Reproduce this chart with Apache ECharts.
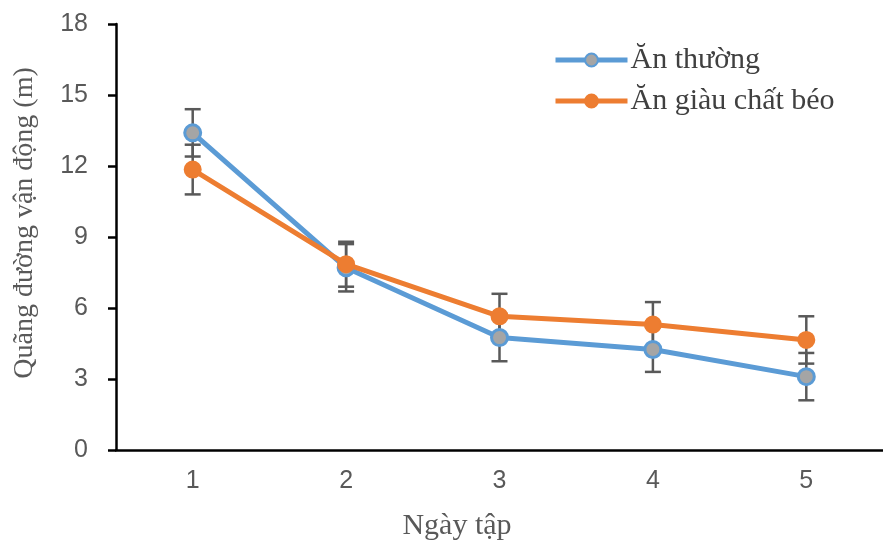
<!DOCTYPE html>
<html>
<head>
<meta charset="utf-8">
<script src="https://cdn.jsdelivr.net/npm/echarts@6/dist/echarts.min.js"></script>
<style>html,body{margin:0;padding:0;background:#fff;}#c{width:883px;height:544px;}</style>
</head>
<body>
<div id="c"></div>
<script>
const categories = ['1', '2', '3', '4', '5'];
const normalName = 'Ăn thường';
const fatName = 'Ăn giàu chất béo';
const normalValues = [13.4, 7.7, 4.75, 4.25, 3.1];
const normalErrors = [1.0, 1.0, 1.0, 0.95, 1.0];
const fatValues = [11.85, 7.85, 5.65, 5.3, 4.65];
const fatErrors = [1.05, 0.95, 0.95, 0.95, 1.0];
const yTicks = [0, 3, 6, 9, 12, 15, 18];
const xTitle = 'Ngày tập';
const yTitle = 'Quãng đường vận động (m)';

const chart = echarts.init(document.getElementById('c'), null, {renderer: 'canvas'});

function errData(vals, errs) {
  return vals.map((v, i) => [i, v - errs[i], v + errs[i]]);
}
function errRender(params, api) {
  const x = api.value(0);
  const lo = api.coord([x, api.value(1)]);
  const hi = api.coord([x, api.value(2)]);
  const hw = 8;
  const style = {stroke: '#595959', lineWidth: 2.5, fill: null};
  return {
    type: 'group',
    children: [
      {type: 'line', shape: {x1: lo[0], y1: lo[1], x2: hi[0], y2: hi[1]}, style: style},
      {type: 'line', shape: {x1: lo[0] - hw, y1: lo[1], x2: lo[0] + hw, y2: lo[1]}, style: style},
      {type: 'line', shape: {x1: hi[0] - hw, y1: hi[1], x2: hi[0] + hw, y2: hi[1]}, style: style}
    ]
  };
}

chart.setOption({
  animation: false,
  backgroundColor: '#ffffff',
  grid: {left: 116, top: 24, width: 772, height: 426, containLabel: false},
  legend: {
    left: 553, top: 45, padding: 0, orient: 'vertical', itemWidth: 72, itemHeight: 16, itemGap: 11,
    lineStyle: {width: 5},
    textStyle: {fontFamily: 'Liberation Serif', fontSize: 30, lineHeight: 30, color: '#404040', padding: [0, 0, 0, -2]},
    data: [normalName, fatName]
  },
  xAxis: {
    type: 'category', data: categories, boundaryGap: true,
    axisLine: {lineStyle: {color: '#000', width: 2.5}},
    axisTick: {inside: true, alignWithLabel: true, length: 6, lineStyle: {color: '#000', width: 2.5}},
    axisLabel: {margin: 19, fontFamily: 'Liberation Sans', fontSize: 25, color: '#595959'},
    splitLine: {show: false}
  },
  yAxis: {
    type: 'value', min: yTicks[0], max: yTicks[yTicks.length - 1], interval: 3,
    axisLine: {show: true, lineStyle: {color: '#000', width: 2.5}},
    axisTick: {show: true, length: 8, lineStyle: {color: '#000', width: 2.5}},
    axisLabel: {margin: 28, fontFamily: 'Liberation Sans', fontSize: 25, color: '#595959'},
    splitLine: {show: false}
  },
  graphic: [
    {type: 'text', x: 457, y: 526, style: {text: xTitle, fontFamily: 'Liberation Serif', fontSize: 30, fill: '#595959', align: 'center', verticalAlign: 'middle'}},
    {type: 'text', x: 25, y: 223, rotation: Math.PI / 2, style: {text: yTitle, fontFamily: 'Liberation Serif', fontSize: 28, fill: '#595959', align: 'center', verticalAlign: 'middle'}}
  ],
  series: [
    {type: 'custom', name: 'errN', data: errData(normalValues, normalErrors), renderItem: errRender, z: 1, silent: true},
    {type: 'custom', name: 'errF', data: errData(fatValues, fatErrors), renderItem: errRender, z: 1, silent: true},
    {
      type: 'line', name: normalName, data: normalValues, z: 3,
      symbol: 'circle', symbolSize: 16,
      lineStyle: {color: '#5B9BD5', width: 5},
      itemStyle: {color: '#A5A5A5', borderColor: '#5B9BD5', borderWidth: 3}
    },
    {
      type: 'line', name: fatName, data: fatValues, z: 4,
      symbol: 'circle', symbolSize: 16,
      lineStyle: {color: '#ED7D31', width: 5},
      itemStyle: {color: '#ED7D31', borderColor: '#ED7D31', borderWidth: 2}
    }
  ]
});
</script>
</body>
</html>
